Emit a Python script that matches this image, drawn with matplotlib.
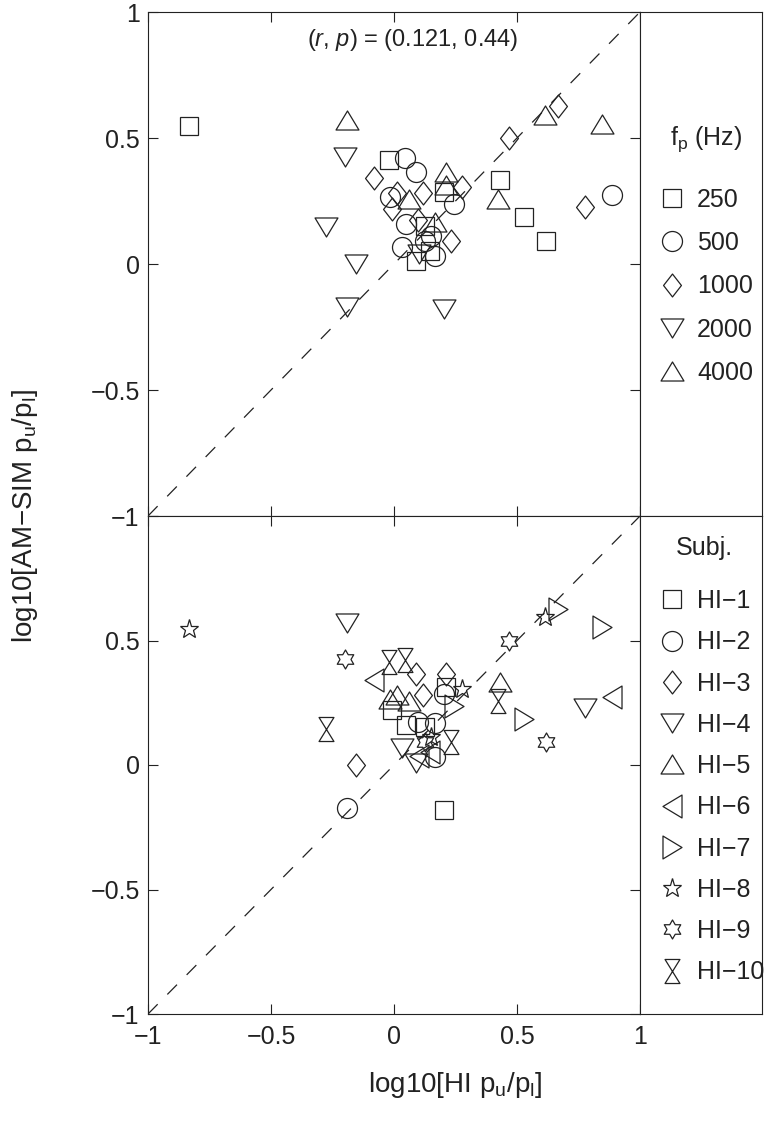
import numpy as np
import matplotlib
matplotlib.use('Agg')
import matplotlib.pyplot as plt
from matplotlib.path import Path

plt.rcParams['font.family'] = ['Liberation Sans', 'DejaVu Sans']
plt.rcParams['mathtext.fontset'] = 'custom'
plt.rcParams['mathtext.rm'] = 'Liberation Sans'
plt.rcParams['mathtext.it'] = 'Liberation Sans:italic'

# data: one entry per (subject, frequency) pair
hi_x = [-0.832, -0.190, -0.200, -0.022, -0.081, -0.015, -0.276, -0.153, -0.193, 0.045,
        0.091, 0.213, 0.213, 0.204, 0.278, 0.243, 0.012, -0.007, 0.062, 0.118,
        0.050, 0.097, 0.128, 0.167, 0.150, 0.127, 0.231, 0.032, 0.146, 0.168,
        0.101, 0.091, 0.204, 0.430, 0.421, 0.527, 0.618, 0.466, 0.614, 0.668,
        0.846, 0.777, 0.887]
am_y = [0.546, 0.572, 0.425, 0.412, 0.341, 0.266, 0.145, 0.000, -0.171, 0.420,
        0.364, 0.367, 0.313, 0.285, 0.305, 0.238, 0.280, 0.220, 0.257, 0.280,
        0.160, 0.174, 0.152, 0.167, 0.112, 0.092, 0.092, 0.068, 0.053, 0.032,
        0.038, 0.010, -0.180, 0.335, 0.257, 0.186, 0.093, 0.499, 0.593, 0.627,
        0.555, 0.228, 0.273]
freq = [250, 4000, 2000, 250, 1000, 500, 2000, 2000, 2000, 500,
        500, 4000, 4000, 250, 1000, 500, 1000, 1000, 4000, 1000,
        500, 1000, 250, 4000, 500, 500, 1000, 500, 250, 500,
        2000, 250, 2000, 250, 4000, 250, 250, 1000, 4000, 1000,
        4000, 1000, 500]
subj = [8, 4, 9, 10, 6, 5, 10, 3, 2, 10,
        3, 3, 1, 2, 8, 7, 5, 1, 5, 3,
        1, 2, 1, 2, 8, 9, 10, 4, 6, 2,
        6, 4, 1, 5, 10, 7, 9, 9, 8, 7,
        7, 4, 6]

freq_levels = [250, 500, 1000, 2000, 4000]
subj_levels = list(range(1, 11))
subj_labels = ['HI\u2212%d' % s for s in subj_levels]

# marker shapes (MATLAB-like)
tri_up = Path([(0, 0.83), (-1, -0.83), (1, -0.83), (0, 0.83)], closed=True)
tri_down = Path([(0, -0.83), (-1, 0.83), (1, 0.83), (0, -0.83)], closed=True)
tri_left = Path([(-0.83, 0), (0.83, 1), (0.83, -1), (-0.83, 0)], closed=True)
tri_right = Path([(0.83, 0), (-0.83, 1), (-0.83, -1), (0.83, 0)], closed=True)
diamond = Path([(0, 1), (0.78, 0), (0, -1), (-0.78, 0), (0, 1)], closed=True)
ang = np.pi / 2 + np.arange(12) * np.pi / 6
rad = np.where(np.arange(12) % 2 == 0, 1.0, 0.577)
hexa_v = np.column_stack([rad * np.cos(ang), rad * np.sin(ang)])
hexagram = Path(np.vstack([hexa_v, hexa_v[:1]]), closed=True)
hourglass = Path([(-0.62, 1), (0.62, 1), (-0.62, -1), (0.62, -1), (-0.62, 1)], closed=True)

# (marker, size in pt)
shapes = [('s', 13.5), ('o', 14.4), (diamond, 16.5), (tri_down, 16.5), (tri_up, 16.5),
          (tri_left, 16.5), (tri_right, 16.5), ('*', 14.0), (hexagram, 13.7), (hourglass, 17.3)]

ec = '#222222'
W, H = 767.0, 1125.0


def rect(x0, y0, x1, y1):
    return [x0 / W, 1 - y1 / H, (x1 - x0) / W, (y1 - y0) / H]


fig = plt.figure(figsize=(W / 100, H / 100), dpi=100)
ax1 = fig.add_axes(rect(148, 12, 640, 516))
ax2 = fig.add_axes(rect(148, 516, 640, 1014))
lg1 = fig.add_axes(rect(640, 12, 762, 516))
lg2 = fig.add_axes(rect(640, 516, 762, 1014))

x = np.array(hi_x)
y = np.array(am_y)
f = np.array(freq)
s = np.array(subj)

for ax in (ax1, ax2):
    ax.plot([-1, 1], [-1, 1], color=ec, lw=0.9, dashes=(11, 11))
    ax.set_xlim(-1, 1)
    ax.set_ylim(-1, 1)
    ax.set_xticks([-1, -0.5, 0, 0.5, 1])
    ax.set_yticks([-1, -0.5, 0, 0.5, 1])
    ax.tick_params(direction='in', length=7, width=0.8, top=True, right=True,
                   labelsize=18, colors=ec)
    ax.tick_params(axis='x', pad=8)
    ax.tick_params(axis='y', pad=6)
    for sp in ax.spines.values():
        sp.set_linewidth(0.8)
        sp.set_color(ec)

for i, lev in enumerate(freq_levels):
    m, ms = shapes[i]
    k = f == lev
    ax1.plot(x[k], y[k], ls='none', marker=m, ms=ms, mfc='none', mec=ec, mew=0.9,
             label=str(lev))

for i, lev in enumerate(subj_levels):
    m, ms = shapes[i]
    k = s == lev
    ax2.plot(x[k], y[k], ls='none', marker=m, ms=ms, mfc='none', mec=ec, mew=0.9,
             label=subj_labels[i])

ax1.tick_params(labelbottom=False)
ax1.set_yticklabels(['\u22121', '\u22120.5', '0', '0.5', '1'])
ax2.set_yticklabels(['\u22121', '\u22120.5', '0', '0.5', ''])
ax2.set_xticklabels(['\u22121', '\u22120.5', '0', '0.5', '1'])

ax1.text(0.076, 0.89, r'($\mathit{r}$, $\mathit{p}$) = (0.121, 0.44)', ha='center',
         va='center', fontsize=17, color=ec)

for lg in (lg1, lg2):
    lg.set_xticks([])
    lg.set_yticks([])
    for sp in lg.spines.values():
        sp.set_linewidth(0.8)
        sp.set_color(ec)

h1, l1 = ax1.get_legend_handles_labels()
leg1 = lg1.legend(h1, l1, loc='upper left', bbox_to_anchor=(0.16, 0.651), frameon=False,
                  fontsize=18, handlelength=1.0, handletextpad=0.5, labelspacing=0.77,
                  borderpad=0, borderaxespad=0, numpoints=1)
h2, l2 = ax2.get_legend_handles_labels()
leg2 = lg2.legend(h2, l2, loc='upper left', bbox_to_anchor=(0.16, 0.853), frameon=False,
                  fontsize=18, handlelength=1.0, handletextpad=0.5, labelspacing=0.69,
                  borderpad=0, borderaxespad=0, numpoints=1)
for leg in (leg1, leg2):
    for t in leg.get_texts():
        t.set_color(ec)

lg1.text((706 - 640) / 122, (516 - 145) / 504, r'f$_\mathregular{p}$ (Hz)', ha='center',
         va='baseline', fontsize=18, color=ec, transform=lg1.transAxes)
lg2.text((704 - 640) / 122, (1014 - 555) / 498, 'Subj.', ha='center',
         va='baseline', fontsize=18, color=ec, transform=lg2.transAxes)

fig.text(455 / W, 1 - 1085 / H, r'log10[HI p$_\mathregular{u}$/p$_\mathregular{l}$]',
         ha='center', va='center', fontsize=20, color=ec)
fig.text(25 / W, 1 - 516 / H, 'log10[AM\u2212SIM p$_\\mathregular{u}$/p$_\\mathregular{l}$]',
         ha='center', va='center', rotation=90, fontsize=20, color=ec)

fig.savefig('out.png', dpi=100)
